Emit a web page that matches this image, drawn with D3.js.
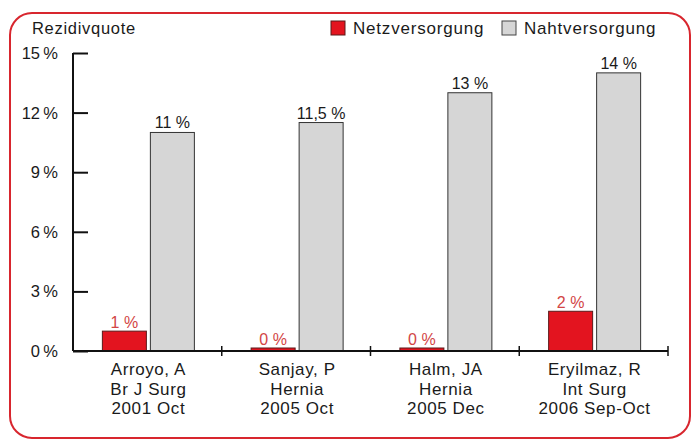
<!DOCTYPE html>
<html>
<head>
<meta charset="utf-8">
<script src="https://cdn.jsdelivr.net/npm/d3@7"></script>
<style>
  body { margin: 0; background: #fff; }
  text { font-family: "Liberation Sans", Arial, sans-serif; }
</style>
</head>
<body>
<script>
// data
var studies = ["Arroyo, A|Br J Surg|2001 Oct", "Sanjay, P|Hernia|2005 Oct", "Halm, JA|Hernia|2005 Dec", "Eryilmaz, R|Int Surg|2006 Sep-Oct"];
var netz = [1, 0, 0, 2];
var naht = [11, 11.5, 13, 14];
var netzLabels = ["1 %", "0 %", "0 %", "2 %"];
var nahtLabels = ["11 %", "11,5 %", "13 %", "14 %"];
var yTicks = [0, 3, 6, 9, 12, 15];
var seriesNames = ["Netzversorgung", "Nahtversorgung"];

var w = 697, h = 447;
var red = "#e3141f", gray = "#d6d6d6", ink = "#1a1a1a";

var svg = d3.select("body").append("svg")
    .attr("width", w)
    .attr("height", h);

// red rounded frame
svg.append("rect")
    .attr("x", 10).attr("y", 13)
    .attr("width", 680).attr("height", 425)
    .attr("rx", 22)
    .attr("fill", "none")
    .attr("stroke", "#d8262e")
    .attr("stroke-width", 2);

// scales
var xScale = d3.scaleBand().domain(studies).range([73, 668]);
var yScale = d3.scaleLinear().domain([0, 15]).range([351, 53]);

var barW = 44, gap = 4;
function groupCenter(d) {
    return xScale(d) + xScale.bandwidth() / 2 + 1;
}

// y axis
var yAxis = d3.axisRight(yScale)
    .tickValues(yTicks)
    .tickSize(15)
    .tickFormat("");
var gy = svg.append("g")
    .attr("transform", "translate(73,0)")
    .call(yAxis);
gy.select(".domain").attr("stroke", "#111").attr("stroke-width", 2)
    .attr("d", "M0," + yScale(15) + "V" + yScale(0));
gy.selectAll(".tick line").attr("stroke", "#111").attr("stroke-width", 2);

svg.selectAll(".ylab")
    .data(yTicks)
    .enter().append("text")
    .attr("class", "ylab")
    .attr("x", 58)
    .attr("y", function(d){ return yScale(d) + 6; })
    .attr("text-anchor", "end")
    .attr("font-size", 16.5)
    .attr("fill", ink)
    .text(function(d){ return d + "\u202F%"; });

svg.append("text")
    .attr("x", 32).attr("y", 34)
    .attr("font-size", 16.5)
    .attr("letter-spacing", 0.7)
    .attr("fill", ink)
    .text("Rezidivquote");

// bars
var groups = svg.selectAll(".grp")
    .data(studies)
    .enter().append("g")
    .attr("class", "grp");

groups.append("rect")
    .attr("x", function(d){ return groupCenter(d) - gap / 2 - barW; })
    .attr("y", function(d, i){ return Math.min(yScale(netz[i]), yScale(0) - 3); })
    .attr("width", barW)
    .attr("height", function(d, i){ return Math.max(yScale(0) - yScale(netz[i]), 3); })
    .attr("fill", red)
    .attr("stroke", "#5a1a1a")
    .attr("stroke-width", 1);

groups.append("rect")
    .attr("x", function(d){ return groupCenter(d) + gap / 2; })
    .attr("y", function(d, i){ return yScale(naht[i]); })
    .attr("width", barW)
    .attr("height", function(d, i){ return yScale(0) - yScale(naht[i]); })
    .attr("fill", gray)
    .attr("stroke", "#333")
    .attr("stroke-width", 1);

// value labels
groups.append("text")
    .attr("x", function(d){ return groupCenter(d) - gap / 2 - barW / 2; })
    .attr("y", function(d, i){ return Math.min(yScale(netz[i]), yScale(0) - 3) - 3; })
    .attr("text-anchor", "middle")
    .attr("font-size", 16)
    .attr("fill", "#d24545")
    .text(function(d, i){ return netzLabels[i]; });

groups.append("text")
    .attr("x", function(d){ return groupCenter(d) + gap / 2 + barW / 2; })
    .attr("y", function(d, i){ return yScale(naht[i]) - 4; })
    .attr("text-anchor", "middle")
    .attr("font-size", 16)
    .attr("fill", ink)
    .text(function(d, i){ return nahtLabels[i]; });

// x axis
svg.append("line")
    .attr("x1", 73).attr("x2", 668)
    .attr("y1", yScale(0)).attr("y2", yScale(0))
    .attr("stroke", "#111").attr("stroke-width", 2);

svg.selectAll(".xtick")
    .data(studies)
    .enter().append("line")
    .attr("class", "xtick")
    .attr("x1", function(d){ return xScale(d) + xScale.bandwidth(); })
    .attr("x2", function(d){ return xScale(d) + xScale.bandwidth(); })
    .attr("y1", yScale(0) - 5).attr("y2", yScale(0) + 5)
    .attr("stroke", "#111").attr("stroke-width", 1.5);

// category labels
var cat = groups.append("text")
    .attr("text-anchor", "middle")
    .attr("font-size", 17)
    .attr("letter-spacing", 0.6)
    .attr("fill", ink);
cat.selectAll("tspan")
    .data(function(d){ return d.split("|").map(function(s){ return {s: s, c: groupCenter(d)}; }); })
    .enter().append("tspan")
    .attr("x", function(d){ return d.c; })
    .attr("y", function(d, i){ return 375 + i * 19.5; })
    .text(function(d){ return d.s; });

// legend
var legend = svg.append("g");
var legX = [331, 502];
legend.selectAll("rect")
    .data(seriesNames)
    .enter().append("rect")
    .attr("x", function(d, i){ return legX[i]; })
    .attr("y", 21)
    .attr("width", 14).attr("height", 14)
    .attr("fill", function(d, i){ return i === 0 ? red : gray; })
    .attr("stroke", function(d, i){ return i === 0 ? "#5a1a1a" : "#444"; })
    .attr("stroke-width", 1);
legend.selectAll("text")
    .data(seriesNames)
    .enter().append("text")
    .attr("x", function(d, i){ return legX[i] + 22; })
    .attr("y", 34)
    .attr("font-size", 17)
    .attr("letter-spacing", 0.8)
    .attr("fill", ink)
    .text(function(d){ return d; });
</script>
</body>
</html>
